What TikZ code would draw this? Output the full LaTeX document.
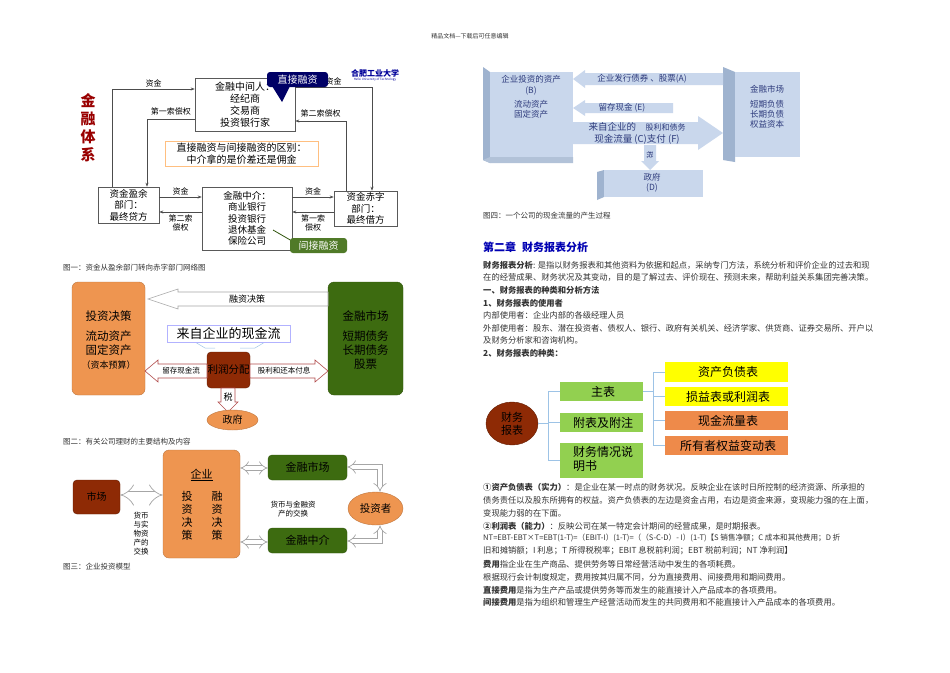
\documentclass[tikz,border=0pt]{standalone}
\usepackage{fontspec}
\setmainfont{Noto Sans CJK SC}
\usetikzlibrary{arrows.meta,shapes.geometric}
\newcommand\fsz[1]{\fontsize{#1pt}{\dimexpr#1pt*6/5\relax}\selectfont}
\definecolor{orng}{HTML}{EE9550}
\definecolor{dgrn}{HTML}{3D6B10}
\definecolor{dred}{HTML}{8E2A05}
\definecolor{lblu}{HTML}{C9D7EC}
\definecolor{sblu}{HTML}{9FB3CF}
\definecolor{tblu}{HTML}{2E3B7C}
\definecolor{lgrn}{HTML}{92D050}
\definecolor{yel}{HTML}{FFFF00}
\definecolor{or2}{HTML}{EE8A4A}
\definecolor{lnb}{HTML}{9DC3E6}
\definecolor{txt}{HTML}{333333}
\tikzset{
 bx/.style={draw=gray!70!black,fill=white,line width=0.6pt,align=center,font=\fsz{10},inner sep=0pt},
 arr/.style={draw=gray!60!black,line width=0.6pt,-{Stealth[length=4pt]}},
 lab/.style={font=\fsz{8},inner sep=0pt,align=center},
 capt/.style={font=\fsz{7.5},text=txt,anchor=west,inner sep=0pt},
 body/.style={font=\fsz{8.3},text=txt,anchor=west,inner sep=0pt},
 obox/.style={fill=orng,draw=orng!80!black,rounded corners=6pt,align=center,inner sep=0pt},
 gbox/.style={fill=dgrn,draw=dgrn!80!black,rounded corners=6pt,align=center,inner sep=0pt},
 hol/.style={fill=white,draw=gray!70,line width=0.6pt},
 dbl/.style={draw=gray!70,double=white,double distance=4pt,line width=0.7pt,{Implies}-{Implies}},
 tb/.style={align=center,inner sep=0pt,text=tblu,font=\fsz{8.5}},
 gb/.style={fill=lgrn,anchor=west,inner sep=0pt,font=\fsz{12},align=left},
}
\begin{document}
\begin{tikzpicture}[x=1pt,y=-1pt]
\useasboundingbox[fill=white] (0,0) rectangle (950,672);
\node[font=\fsz{6},text=txt] (hdr) at (470,36) {精品文档---下载后可任意编辑};
% ===== Figure 1 =====
\node[font=\fsz{15}\bfseries,text=red!60!black,align=center,inner sep=0pt] (tx1) at (88,128) {金\\融\\体\\系};
\node[bx,minimum width=100,minimum height=53] (m1) at (245,104.5) {金融中间人：\\经纪商\\交易商\\投资银行家};
\node[bx,minimum width=61,minimum height=36,font=\fsz{9.5}] (lend) at (128.5,205) {资金盈余\\部门：\\最终贷方};
\node[bx,minimum width=63,minimum height=35,font=\fsz{9.5}] (rdef) at (365.5,208.5) {资金赤字\\部门：\\最终借方};
\node[bx,minimum width=90,minimum height=63,font=\fsz{9.5}] (m2) at (247,218.5) {金融中介：\\商业银行\\投资银行\\退休基金\\保险公司};
\node[draw=orange!50,fill=white,minimum width=153,minimum height=25,align=center,inner sep=0pt,font=\fsz{10}] (note) at (241.5,153.5) {直接融资与间接融资的区别：\\中介拿的是价差还是佣金};
\draw[arr] ([xshift=15pt]lend.north west) |- (m1.west |- 0,89) node[lab,pos=0.75,above=2pt] (l1) {资金};
\draw[arr] (m1.west |- 0,119) -| (lend.north -| 147,0) node[lab,pos=0.25,above=4pt] (l2) {第一索偿权};
\draw[arr] (m1.east |- 0,87) -| (rdef.north -| 372,0) node[lab,pos=0.25,above=2pt] (l3) {资金};
\draw[arr] (rdef.north -| 346,0) |- (m1.east |- 0,121) node[lab,pos=0.75,above=4pt] (l4) {第二索偿权};
\draw[arr] (lend.east |- 0,197) -- (m2.west |- 0,197) node[lab,midway,above=2pt] (l5) {资金};
\draw[arr] (m2.east |- 0,197) -- (rdef.west |- 0,197) node[lab,midway,above=2pt] (l6) {资金};
\draw[arr] (m2.west |- 0,212) -- (lend.east |- 0,212) node[lab,midway,below=2pt] (l7) {第二索\\偿权};
\draw[arr] (rdef.west |- 0,212) -- (m2.east |- 0,212) node[lab,midway,below=2pt] (l8) {第一索\\偿权};
\fill[blue!40!black] (272,86) -- (282,102) -- (290,86) -- cycle;
\node[fill=blue!40!black,text=white,rounded corners=3pt,minimum width=61,minimum height=15,font=\fsz{10},inner sep=0pt] (cb1) at (297.5,79.5) {直接融资};
\draw[dgrn!80!black,line width=0.8pt] (273,230) -- (292,241);
\node[fill=dgrn!90,text=white,rounded corners=3pt,minimum width=57,minimum height=15,font=\fsz{10},inner sep=0pt] (cb2) at (318.5,245.5) {间接融资};
\node[font=\fsz{8}\itshape\bfseries,text=blue!60!black,inner sep=0pt] (logo) at (375,73) {合肥工业大学};
\node[font=\fsz{3},text=blue!60!black,inner sep=0pt] (logo2) at (375,80) {Hefei University of Technology};
\node[capt] (c1) at (63,268) {图一：资金从盈余部门转向赤字部门网络图};
% ===== Figure 2 =====
\node[obox,minimum width=73,minimum height=113] (inv) at (108.5,338.5) {};
\node[font=\fsz{11.5},align=center,inner sep=0pt] (invt) at (108.5,340) {投资决策\\[6pt]流动资产\\固定资产\\{\fsz{9}（资本预算）}};
\node[gbox,minimum width=75,minimum height=113] (fm) at (365.5,338.5) {};
\node[font=\fsz{11.5},align=center,inner sep=0pt,text=black] (fmt) at (365.5,340) {金融市场\\[6pt]短期债务\\长期债务\\股票};
\draw[hol] (148,299) -- (178,289) -- (178,292) -- (328,292) -- (328,306) -- (178,306) -- (178,309) -- cycle;
\node[font=\fsz{9},inner sep=0pt] (rz) at (247,299) {融资决策};
\draw[draw=lnb,line width=0.5pt] (195,342) -- (205,348) -- (215,348);
\draw[draw=lnb,line width=0.5pt] (265,342) -- (255,348) -- (240,348);
\node[draw=blue!30,fill=white,minimum width=123,minimum height=17,font=\fsz{13},inner sep=0pt] (cf) at (228.5,333.5) {来自企业的现金流};
\node[fill=dred,draw=dred!70!black,rounded corners=4pt,minimum width=43,minimum height=36,font=\fsz{10.5},inner sep=0pt] (lr) at (228.5,370) {利润分配};
\draw[hol,draw=red!40!gray] (145,371) -- (158,360) -- (158,364) -- (207,364) -- (207,378) -- (158,378) -- (158,382) -- cycle;
\node[font=\fsz{7.5},inner sep=0pt] (lc) at (181,371) {留存现金流};
\draw[hol,draw=red!40!gray] (328,371) -- (315,360) -- (315,364) -- (250,364) -- (250,378) -- (315,378) -- (315,382) -- cycle;
\node[font=\fsz{7.5},inner sep=0pt] (gl) at (284,371) {股利和还本付息};
\draw[hol,draw=red!40!gray] (228,412) -- (218,402) -- (221,402) -- (221,388) -- (235,388) -- (235,402) -- (238,402) -- cycle;
\node[font=\fsz{9},inner sep=0pt] (shui) at (228,397) {税};
\node[ellipse,fill=orng,draw=orng!80!black,minimum width=51,minimum height=20,font=\fsz{10},inner sep=0pt] (gov) at (232.5,420) {政府};
\node[capt] (c2) at (63,442) {图二：有关公司理财的主要结构及内容};
% ===== Figure 3 =====
\node[obox,minimum width=77,minimum height=108] (qy) at (201.5,504) {};
\node[font=\fsz{11},inner sep=0pt] (qyt) at (201.5,475) {\underline{企业}};
\node[font=\fsz{11},align=center,inner sep=0pt] (tz) at (187,516) {投\\资\\决\\策};
\node[font=\fsz{11},align=center,inner sep=0pt] (rzc) at (217,516) {融\\资\\决\\策};
\node[fill=dred,draw=dred!70!black,rounded corners=4pt,minimum width=47,minimum height=34,font=\fsz{10},inner sep=0pt] (sc) at (96.5,497) {市场};
\draw[dbl,double distance=7pt] (sc.east |- 0,495) -- (qy.west |- 0,495);
\node[font=\fsz{7.5},align=center,inner sep=0pt] (hb) at (141,534) {货币\\与实\\物资\\产的\\交换};
\node[gbox,minimum width=79,minimum height=25,font=\fsz{11},rounded corners=4pt] (fm3) at (307.5,467.5) {金融市场};
\node[gbox,minimum width=79,minimum height=25,font=\fsz{11},rounded corners=4pt] (fi3) at (307.5,540.5) {金融中介};
\draw[dbl] (qy.east |- 0,468) -- (fm3.west |- 0,468);
\draw[dbl] (qy.east |- 0,542) -- (fi3.west |- 0,542);
\node[font=\fsz{7.5},align=center,inner sep=0pt] (hj) at (293,509) {货币与金融资\\产的交换};
\node[ellipse,fill=orng,draw=orng!80!black,minimum width=55,minimum height=33,font=\fsz{10.5},inner sep=0pt] (tzz) at (375.5,508.5) {投资者};
\draw[dbl] (fm3.east |- 0,467) -- (380,467) -- (tzz.north -| 380,0);
\draw[dbl] (fi3.east |- 0,541) -- (380,541) -- (tzz.south -| 380,0);
\node[capt] (c3) at (63,567) {图三：企业投资模型};
% ===== Figure 4 =====
\fill[sblu] (483,67) -- (490,72) -- (490,163) -- (483,160) -- cycle;
\fill[lblu] (490,72) rectangle (573,160);
\fill[sblu!80] (483,160) -- (490,157) -- (573,157) -- (573,163) -- (490,163) -- cycle;
\node[tb] (bt) at (531,97) {企业投资的资产\\{\itshape (B)}\\[4pt]流动资产\\固定资产};
\fill[sblu] (723,67) -- (735,72) -- (735,162) -- (723,160) -- cycle;
\fill[lblu] (735,72) rectangle (800,157);
\node[tb] (rt) at (767,107) {金融市场\\[4pt]短期负债\\长期负债\\权益资本};
\fill[lblu] (573,79) -- (585,70) -- (585,73) -- (723,73) -- (723,85) -- (585,85) -- (585,88) -- cycle;
\node[tb] (ta) at (642,79) {企业发行债券 、股票{\itshape (A)}};
\fill[lblu] (573,108) -- (585,100) -- (585,103) -- (673,103) -- (673,113) -- (585,113) -- (585,116) -- cycle;
\node[tb] (te) at (622,108) {留存现金 {\itshape (E)}};
\fill[lblu] (723,133) -- (698,116) -- (698,122) -- (573,122) -- (573,144) -- (698,144) -- (698,150) -- cycle;
\fill[lblu] (650,170) -- (641,161) -- (644,161) -- (644,145) -- (656,145) -- (656,161) -- (659,161) -- cycle;
\node[tb,font=\fsz{9.5}] (tc1) at (637,127) {来自企业的\quad{\fsz{8}股利和债务}};
\node[tb,font=\fsz{9.5}] (tc2) at (637,139) {现金流量 {\itshape (C)}支付 {\itshape (F)}};
\node[tb,rotate=-90,font=\fsz{7}] (tax4) at (650,155) {税};
\fill[sblu] (597,172) -- (604,170) -- (604,197) -- (597,200) -- cycle;
\fill[lblu] (604,170) rectangle (703,197);
\node[tb] (gd) at (652,183) {政府\\{\itshape (D)}};
\node[capt] (c4) at (483,216) {图四：一个公司的现金流量的产生过程};
% ===== Text block =====
\node[anchor=west,inner sep=0pt,font=\fsz{11}\bfseries,text=blue!70!black] (h2) at (483,247) {第二章\hspace{6pt}财务报表分析};
\node[body] (t1) at (483,265) {\textbf{财务报表分析}: 是指以财务报表和其他资料为依据和起点，采纳专门方法，系统分析和评价企业的过去和现};
\node[body] (t2) at (483,277) {在的经营成果、财务状况及其变动，目的是了解过去、评价现在、预测未来，帮助利益关系集团完善决策。};
\node[body,font=\fsz{8.3}\bfseries] (t3) at (483,290) {一、财务报表的种类和分析方法};
\node[body,font=\fsz{8.3}\bfseries] (t4) at (483,303) {1、财务报表的使用者};
\node[body] (t5) at (483,315) {内部使用者：企业内部的各级经理人员};
\node[body] (t6) at (483,328) {外部使用者：股东、潜在投资者、债权人、银行、政府有关机关、经济学家、供货商、证券交易所、开户以};
\node[body] (t7) at (483,340) {及财务分析家和咨询机构。};
\node[body,font=\fsz{8.3}\bfseries] (t8) at (483,353) {2、财务报表的种类：};
% ===== Figure 5 =====
\node[ellipse,fill=dred,draw=dred!70!black,minimum width=52,minimum height=43,font=\fsz{11},align=center,inner sep=0pt] (cw) at (512,423.5) {财务\\报表};
\node[gb,minimum width=83,minimum height=19] (zb) at (560,391.5) {\hspace{3pt}主表};
\node[gb,minimum width=83,minimum height=19] (fb) at (560,422.5) {\hspace{3pt}附表及附注};
\node[gb,minimum width=83,minimum height=35] (sm) at (560,460.5) {\hspace{3pt}\begin{tabular}{@{}l@{}}财务情况说\\明书\end{tabular}};
\node[gb,fill=yel,minimum width=123,minimum height=20] (b1) at (665,372) {\hspace{3pt}资产负债表};
\node[gb,fill=yel,minimum width=123,minimum height=19] (b2) at (665,396.5) {\hspace{3pt}损益表或利润表};
\node[gb,fill=or2,minimum width=123,minimum height=19] (b3) at (665,420.5) {\hspace{3pt}现金流量表};
\node[gb,fill=or2,minimum width=123,minimum height=19] (b4) at (665,445.5) {\hspace{3pt}所有者权益变动表};
\begin{scope}[draw=lnb,line width=0.8pt]
\draw (cw.east) -- (548,423.5);
\draw (zb.west) -| (548,460.5) -- (sm.west);
\draw (fb.west) -- (548,422.5);
\draw (zb.east) -- (653,391.5);
\draw (b1.west) -| (653,445.5) -- (b4.west);
\draw (b2.west) -- (653,396.5);
\draw (b3.west) -- (653,420.5);
\end{scope}
% ===== Bottom text =====
\node[body] (u1) at (483,487) {\textbf{①资产负债表（实力）}：是企业在某一时点的财务状况。反映企业在该时日所控制的经济资源、所承担的};
\node[body] (u2) at (483,500) {债务责任以及股东所拥有的权益。资产负债表的左边是资金占用，右边是资金来源，变现能力强的在上面，};
\node[body] (u3) at (483,513) {变现能力弱的在下面。};
\node[body] (u4) at (483,526) {\textbf{②利润表（能力）}：反映公司在某一特定会计期间的经营成果，是时期报表。};
\node[body,font=\fsz{7.6}] (u5) at (483,538) {NT=EBT-EBT×T=EBT(1-T)=（EBIT-I）(1-T)=（（S-C-D）- I）(1-T)【S 销售净额；C 成本和其他费用；D 折};
\node[body] (u6) at (483,551) {旧和摊销额；I 利息；T 所得税税率；EBIT 息税前利润；EBT 税前利润；NT 净利润】};
\node[body] (u7) at (483,564) {\textbf{费用}指企业在生产商品、提供劳务等日常经营活动中发生的各项耗费。};
\node[body] (u8) at (483,577) {根据现行会计制度规定，费用按其归属不同，分为直接费用、间接费用和期间费用。};
\node[body] (u9) at (483,590) {\textbf{直接费用}是指为生产产品或提供劳务等而发生的能直接计入产品成本的各项费用。};
\node[body] (u10) at (483,602) {\textbf{间接费用}是指为组织和管理生产经营活动而发生的共同费用和不能直接计入产品成本的各项费用。};
\end{tikzpicture}
\end{document}
